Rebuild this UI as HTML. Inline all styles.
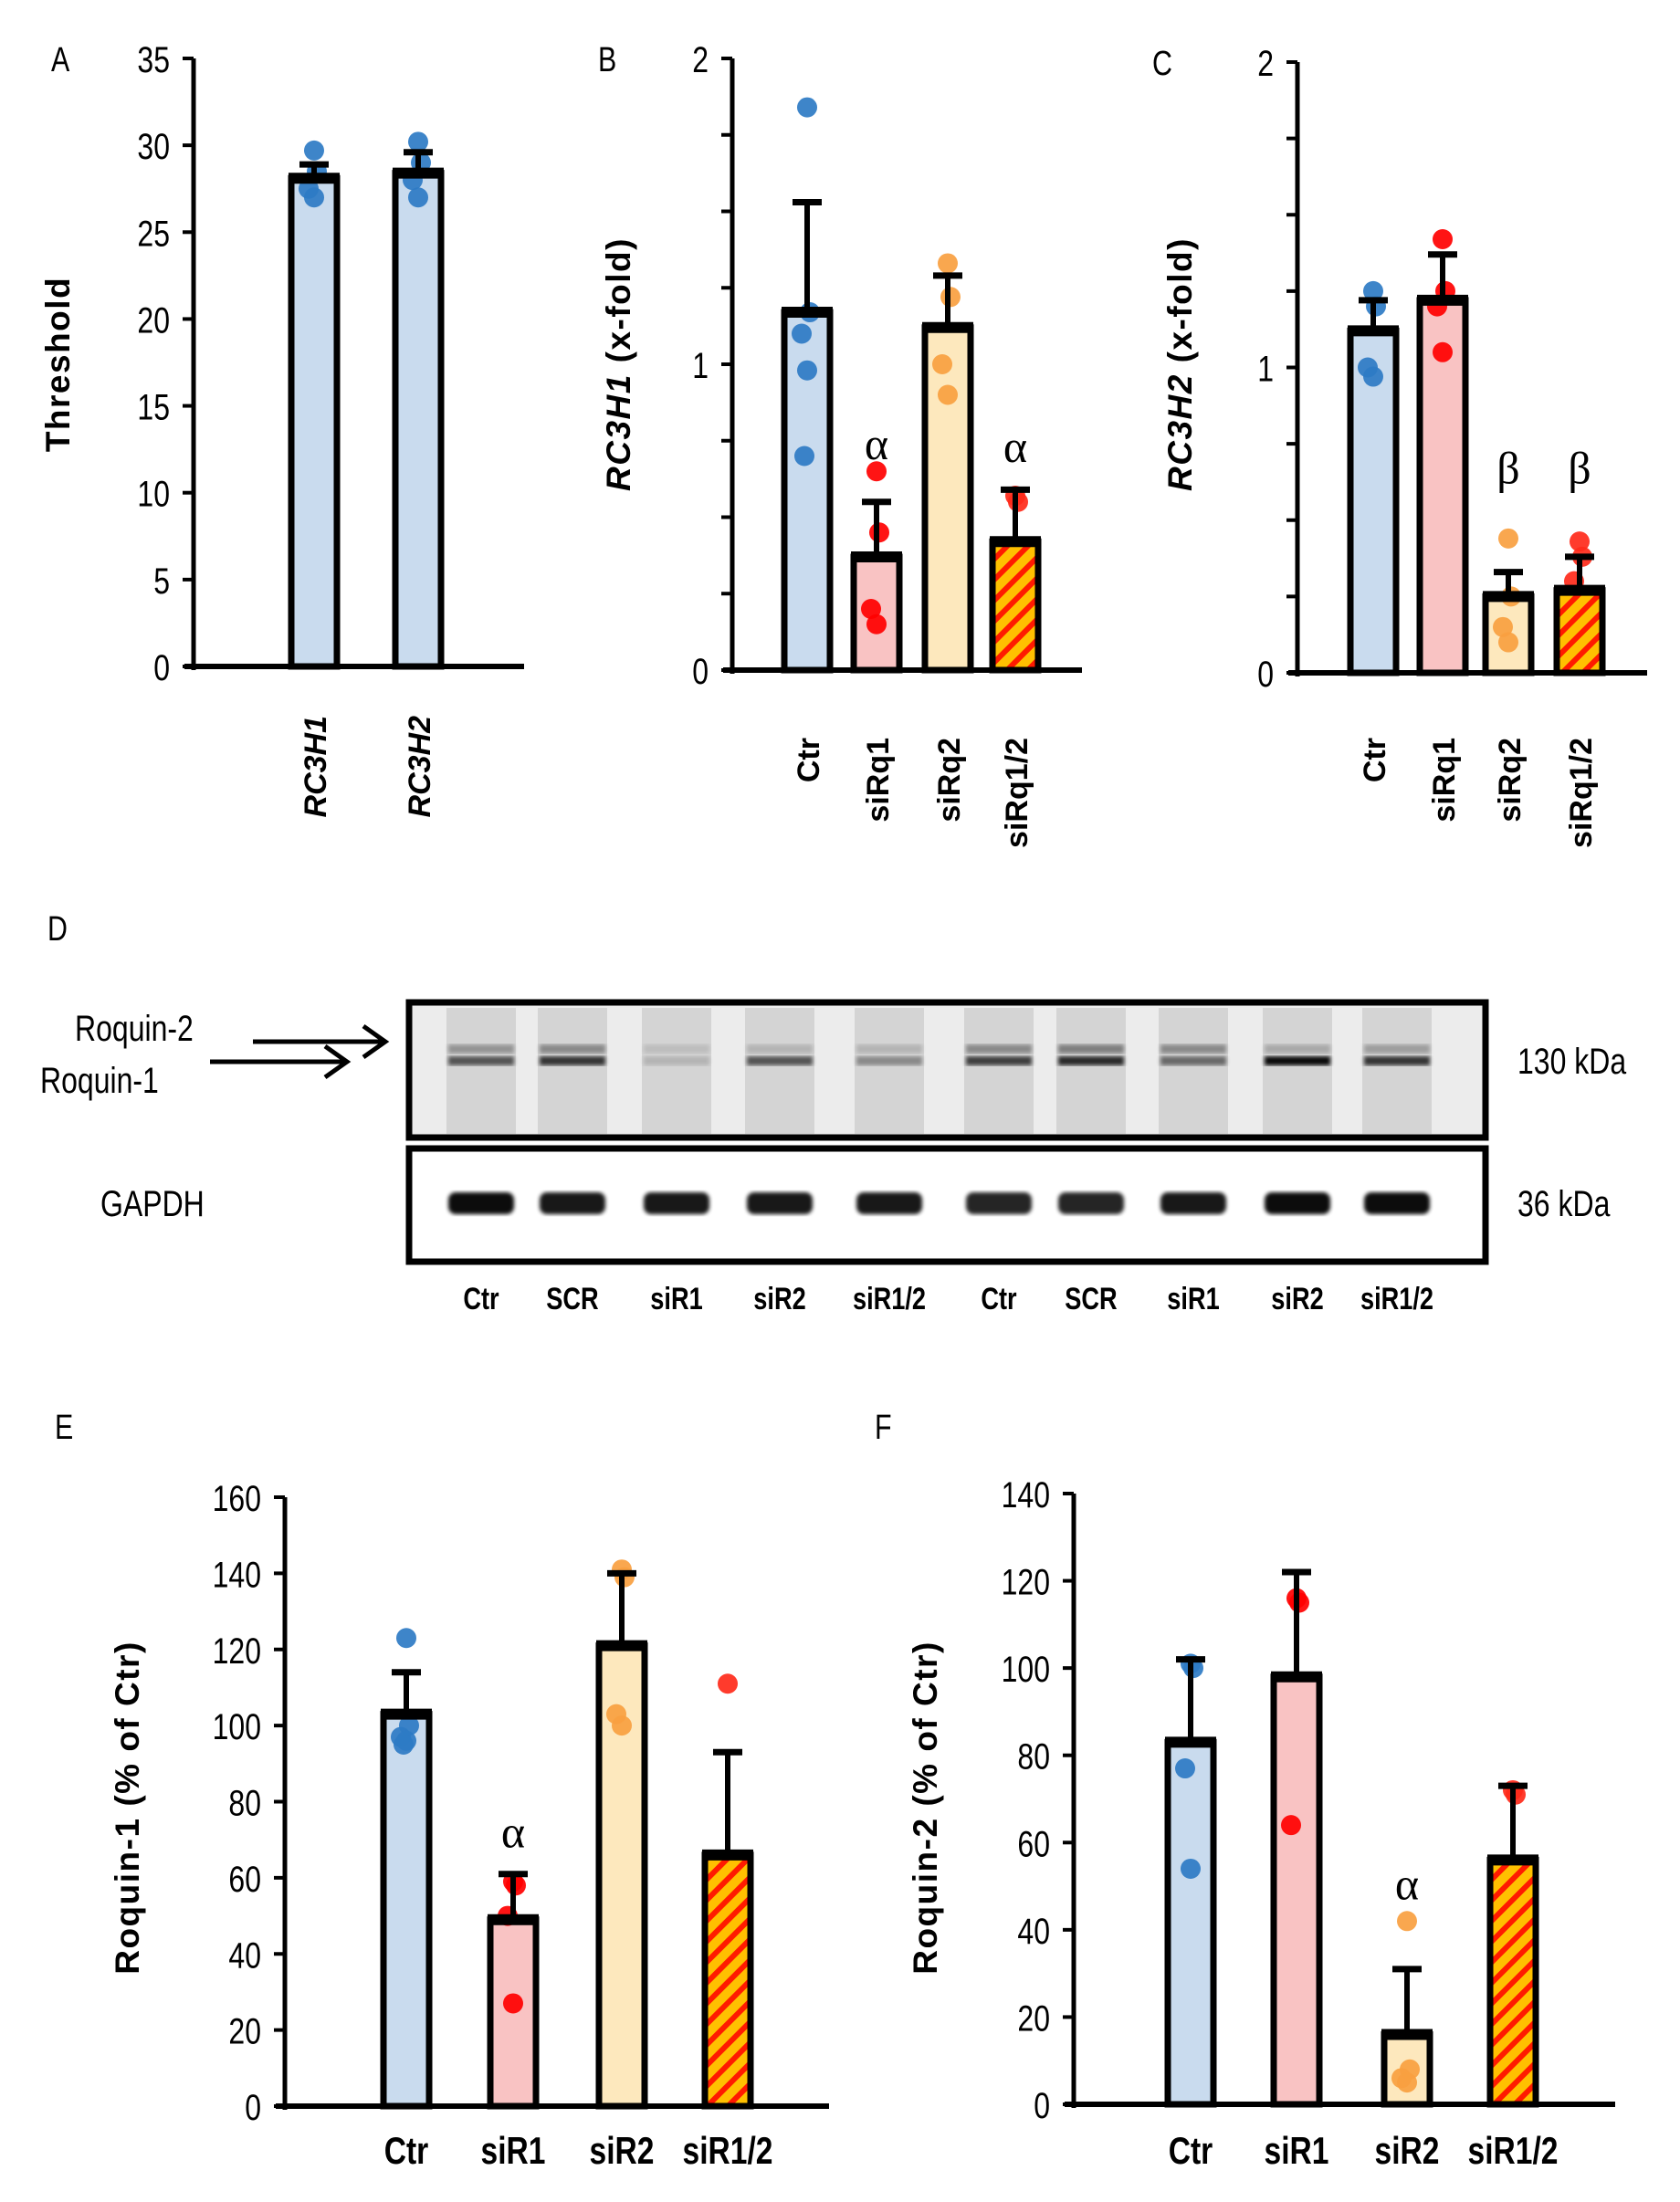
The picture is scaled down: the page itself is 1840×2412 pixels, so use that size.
<!DOCTYPE html>
<html><head><meta charset="utf-8"><style>
html,body{margin:0;padding:0;background:#fff;}
svg{display:block;}
text{font-family:"Liberation Sans Narrow","Liberation Sans",sans-serif;fill:#000;}
.tk{font-size:40px;}
.ttl{font-family:"Liberation Sans",sans-serif;font-size:37px;font-weight:bold;letter-spacing:1.5px;}
.cat{font-family:"Liberation Sans",sans-serif;font-size:34px;font-weight:bold;}
.sym{font-family:"Liberation Serif",serif;font-size:50px;}
.pl{font-family:"Liberation Sans",sans-serif;font-size:38px;}
</style></head><body>
<svg id="fig" width="1840" height="2412" viewBox="0 0 1840 2412" xmlns="http://www.w3.org/2000/svg">
<defs>
<pattern id="hatch" patternUnits="userSpaceOnUse" width="16" height="16" patternTransform="rotate(45)">
<rect width="16" height="16" fill="#ffc000"/><rect width="6" height="16" fill="#ff1a00"/>
</pattern>
<filter id="blur2"><feGaussianBlur stdDeviation="2"/></filter>
</defs>
<g id="root"></g>
</svg>
<script>
// ---- Panel A data ----
const catsA = ["RC3H1","RC3H2"];
const meansA = [28.1, 28.4];
const errA = [28.9, 29.6];
const ptsA = [[29.7,28.5,27.5,27.0],[30.2,29.0,28.0,27.0]];
const ticksA = [0,5,10,15,20,25,30,35];
// ---- Panel B data ----
const catsB = ["Ctr","siRq1","siRq2","siRq1/2"];
const meansB = [1.17, 0.37, 1.12, 0.42];
const errB = [1.53, 0.55, 1.29, 0.59];
const ptsB = [[1.84,1.17,1.1,0.98,0.7],[0.65,0.45,0.2,0.15],[1.33,1.22,1.0,0.9],[0.57,0.55]];
const ticksB = [0,1,2];
// ---- Panel C data ----
const catsC = ["Ctr","siRq1","siRq2","siRq1/2"];
const meansC = [1.12, 1.22, 0.25, 0.27];
const errC = [1.22, 1.37, 0.33, 0.38];
const ptsC = [[1.25,1.2,1.0,0.97],[1.42,1.25,1.2,1.05],[0.44,0.25,0.15,0.1],[0.43,0.38,0.3]];
const ticksC = [0,1,2];
// ---- Panel E data ----
const catsE = ["Ctr","siR1","siR2","siR1/2"];
const meansE = [103, 49, 121, 66];
const errE = [114, 61, 140, 93];
const ptsE = [[123,100,97,96,95],[59,58,50,27],[141,139,103,100],[111]];
const ticksE = [0,20,40,60,80,100,120,140,160];
// ---- Panel F data ----
const catsF = ["Ctr","siR1","siR2","siR1/2"];
const meansF = [83, 98, 16, 56];
const errF = [102, 122, 31, 73];
const ptsF = [[101,100,77,54],[116,115,64],[42,8,6,5],[72,71]];
const ticksF = [0,20,40,60,80,100,120,140];
// ---- Blot data ----
const lanes = ["Ctr","SCR","siR1","siR2","siR1/2","Ctr","SCR","siR1","siR2","siR1/2"];
const roq1 = [0.6,0.75,0.15,0.6,0.35,0.7,0.8,0.5,0.95,0.75];
const roq2 = [0.3,0.35,0.1,0.15,0.15,0.35,0.4,0.35,0.2,0.25];
const gapdh = [0.95,0.9,0.9,0.9,0.9,0.85,0.85,0.9,0.95,0.95];

const NS="http://www.w3.org/2000/svg";
const root=document.getElementById('root');
function mk(tag,attrs,parent,txt){const e=document.createElementNS(NS,tag);for(const k in attrs)e.setAttribute(k,attrs[k]);if(txt!==undefined)e.textContent=txt;(parent||root).appendChild(e);return e;}
const SX=0.8;
function ntext(x,y,anchor,cls,style,parent,txt){
  return mk('text',{x:0,y:0,'text-anchor':anchor,class:cls,style:style||'',transform:`translate(${x},${y}) scale(${SX},1)`},parent,txt);
}

const FILLS=["#c9dbee","#f9c3c3","#fde8bd","url(#hatch)"];
const DOTS=["#2e7bc4","#ff0000","#f9a040","#ff2a1a"];

function panel(cfg,cats,means,errs,pts,ticks,minor){
  const g=mk('g',{});
  
  
  const ymax=ticks[ticks.length-1];
  const Y=v=>cfg.y0-(v/ymax)*(cfg.y0-cfg.yTop);
  cats.forEach((c,i)=>{
    const cx=cfg.xs[i],w=cfg.bw;
    const fi=cfg.fills?cfg.fills[i]:i;
    const r=mk('rect',{x:cx-w/2,y:Y(means[i]),width:w,height:cfg.y0-Y(means[i]),fill:FILLS[fi],stroke:'#000','stroke-width':7},g);
    
    
  });
  cats.forEach((c,i)=>{
    const fi=cfg.fills?cfg.fills[i]:i;
    pts[i].forEach((v,j)=>{
      const dx=(j%2?1:-1)*((j%3)*3);
      const d=mk('circle',{cx:cfg.xs[i]+dx,cy:Y(v),r:11,fill:DOTS[fi],opacity:0.92},g);
      
      
    });
  });
  cats.forEach((c,i)=>{
    const cx=cfg.xs[i];
    const e=mk('g',{},g);
    
    
    mk('line',{x1:cx,x2:cx,y1:Y(means[i]),y2:Y(errs[i]),stroke:'#000','stroke-width':6},e);
    mk('line',{x1:cx-16,x2:cx+16,y1:Y(errs[i]),y2:Y(errs[i]),stroke:'#000','stroke-width':7},e);
    mk('line',{x1:cx-cfg.bw/2-3,x2:cx+cfg.bw/2+3,y1:Y(means[i]),y2:Y(means[i]),stroke:'#000','stroke-width':12},e);
  });
  const ax=mk('line',{x1:cfg.x0,x2:cfg.x0,y1:cfg.yTop,y2:cfg.y0+4,stroke:'#000','stroke-width':5},g);
  
  const xa=mk('line',{x1:cfg.x0-10,x2:cfg.xEnd,y1:cfg.y0,y2:cfg.y0,stroke:'#000','stroke-width':6},g);
  
  const tstep=minor||(ticks[1]-ticks[0]);
  for(let v=0;v<=ymax+1e-9;v+=tstep){
    mk('line',{x1:cfg.x0-12,x2:cfg.x0,y1:Y(v),y2:Y(v),stroke:'#000','stroke-width':4},g);
  }
  ticks.forEach(t=>{
    const tl=ntext(cfg.x0-26,Y(t)+15,'end','tk','',g,String(t));
    
    
  });
  cats.forEach((c,i)=>{
    let t;
    if(cfg.rot){
      t=mk('text',{x:0,y:0,'text-anchor':'end',class:'cat',transform:`translate(${cfg.xs[i]+13},${cfg.catY}) rotate(-90)`,'font-style':cfg.italicCats?'italic':'normal'},g,c);
    }else{
      t=ntext(cfg.xs[i],cfg.catY,'middle','','font-family:"Liberation Sans",sans-serif;font-size:42px;font-weight:bold',g,c);
    }
    
    
  });
  const yt=mk('text',{x:0,y:0,'text-anchor':'middle',class:'ttl',transform:`translate(${cfg.titleX},${cfg.titleY}) rotate(-90)`},g);
  
  
  cfg.title.forEach(p=>{mk('tspan',p.i?{'font-style':'italic'}:{},yt,p.t);});
  const pl=ntext(cfg.lx,cfg.ly,'start','pl','',g,cfg.letter);
  
  
  (cfg.syms||[]).forEach(s=>{
    const st=mk('text',{x:cfg.xs[s.i],y:Y(s.v),'text-anchor':'middle',class:'sym'},g,s.t);
    
    
  });
}

panel({name:'panel-a',letter:'A',lx:56,ly:78,x0:212,xEnd:574,yTop:64,y0:730,xs:[344,458],bw:50,fills:[0,0],rot:true,italicCats:true,catY:784,
  title:[{t:'Threshold'}],titleX:76,titleY:399},catsA,meansA,errA,ptsA,ticksA);
panel({name:'panel-b',letter:'B',lx:655,ly:78,x0:802,xEnd:1185,yTop:64,y0:734,xs:[884,960,1038,1112],bw:50,rot:true,catY:808,
  title:[{t:'RC3H1',i:true},{t:' (x-fold)'}],titleX:690,titleY:399,
  syms:[{i:1,t:'α',v:0.69},{i:3,t:'α',v:0.68}]},catsB,meansB,errB,ptsB,ticksB,0.25);
panel({name:'panel-c',letter:'C',lx:1262,ly:82,x0:1421,xEnd:1804,yTop:68,y0:737,xs:[1504,1580,1652,1730],bw:50,rot:true,catY:808,
  title:[{t:'RC3H2',i:true},{t:' (x-fold)'}],titleX:1305,titleY:399,
  syms:[{i:2,t:'β',v:0.62},{i:3,t:'β',v:0.62}]},catsC,meansC,errC,ptsC,ticksC,0.25);
panel({name:'panel-e',letter:'E',lx:60,ly:1576,x0:312,xEnd:908,yTop:1640,y0:2307,xs:[445,562,681,797],bw:50,rot:false,catY:2370,
  title:[{t:'Roquin-1 (% of Ctr)'}],titleX:152,titleY:1980,
  syms:[{i:1,t:'α',v:68}]},catsE,meansE,errE,ptsE,ticksE);
panel({name:'panel-f',letter:'F',lx:958,ly:1576,x0:1176,xEnd:1769,yTop:1636,y0:2305,xs:[1304,1420,1541,1657],bw:50,rot:false,catY:2370,
  title:[{t:'Roquin-2 (% of Ctr)'}],titleX:1026,titleY:1980,
  syms:[{i:2,t:'α',v:47}]},catsF,meansF,errF,ptsF,ticksF);

// ---- Panel D blot ----
const gd=mk('g',{});


const dl=ntext(52,1030,'start','pl','',gd,'D');


const laneX=[527,627,741,854,974,1094,1195,1307,1421,1530];
mk('rect',{x:448,y:1098,width:1179,height:148,fill:'#ececec'},gd);
laneX.forEach((x,i)=>{
  mk('rect',{x:x-38,y:1104,width:76,height:138,fill:'#d4d4d4'},gd);
  mk('rect',{x:x-36,y:1144,width:72,height:10,fill:'#000',opacity:roq2[i],filter:'url(#blur2)'},gd);
  const b=mk('rect',{x:x-36,y:1157,width:72,height:10,fill:'#000',opacity:roq1[i],filter:'url(#blur2)'},gd);
  
  
  const gb=mk('rect',{x:x-36,y:1306,width:72,height:24,rx:8,fill:'#000',opacity:gapdh[i],filter:'url(#blur2)'},gd);
  
  
  const lt=ntext(x,1434,'middle','','font-family:"Liberation Sans",sans-serif;font-size:34px;font-weight:bold',gd,lanes[i]);
  
  
});
mk('rect',{x:448,y:1098,width:1179,height:148,fill:'none',stroke:'#000','stroke-width':7},gd);
mk('rect',{x:448,y:1258,width:1179,height:124,fill:'none',stroke:'#000','stroke-width':7},gd);
const lab=(t,x,y,n)=>{const e=ntext(x,y,'start','','font-family:"Liberation Sans",sans-serif;font-size:40px',gd,t);};
lab('Roquin-2',82,1140,'roquin-2-label');
lab('Roquin-1',44,1197,'roquin-1-label');
lab('GAPDH',110,1332,'gapdh-label');
lab('130 kDa',1662,1176,'130-kda-label');
lab('36 kDa',1662,1332,'36-kda-label');
mk('line',{x1:277,x2:420,y1:1141,y2:1141,stroke:'#000','stroke-width':5},gd);
mk('polyline',{points:'398,1124 422,1141 398,1158',fill:'none',stroke:'#000','stroke-width':5},gd);
mk('line',{x1:230,x2:378,y1:1163,y2:1163,stroke:'#000','stroke-width':5},gd);
mk('polyline',{points:'356,1146 380,1163 356,1180',fill:'none',stroke:'#000','stroke-width':5},gd);
</script>
</body></html>
